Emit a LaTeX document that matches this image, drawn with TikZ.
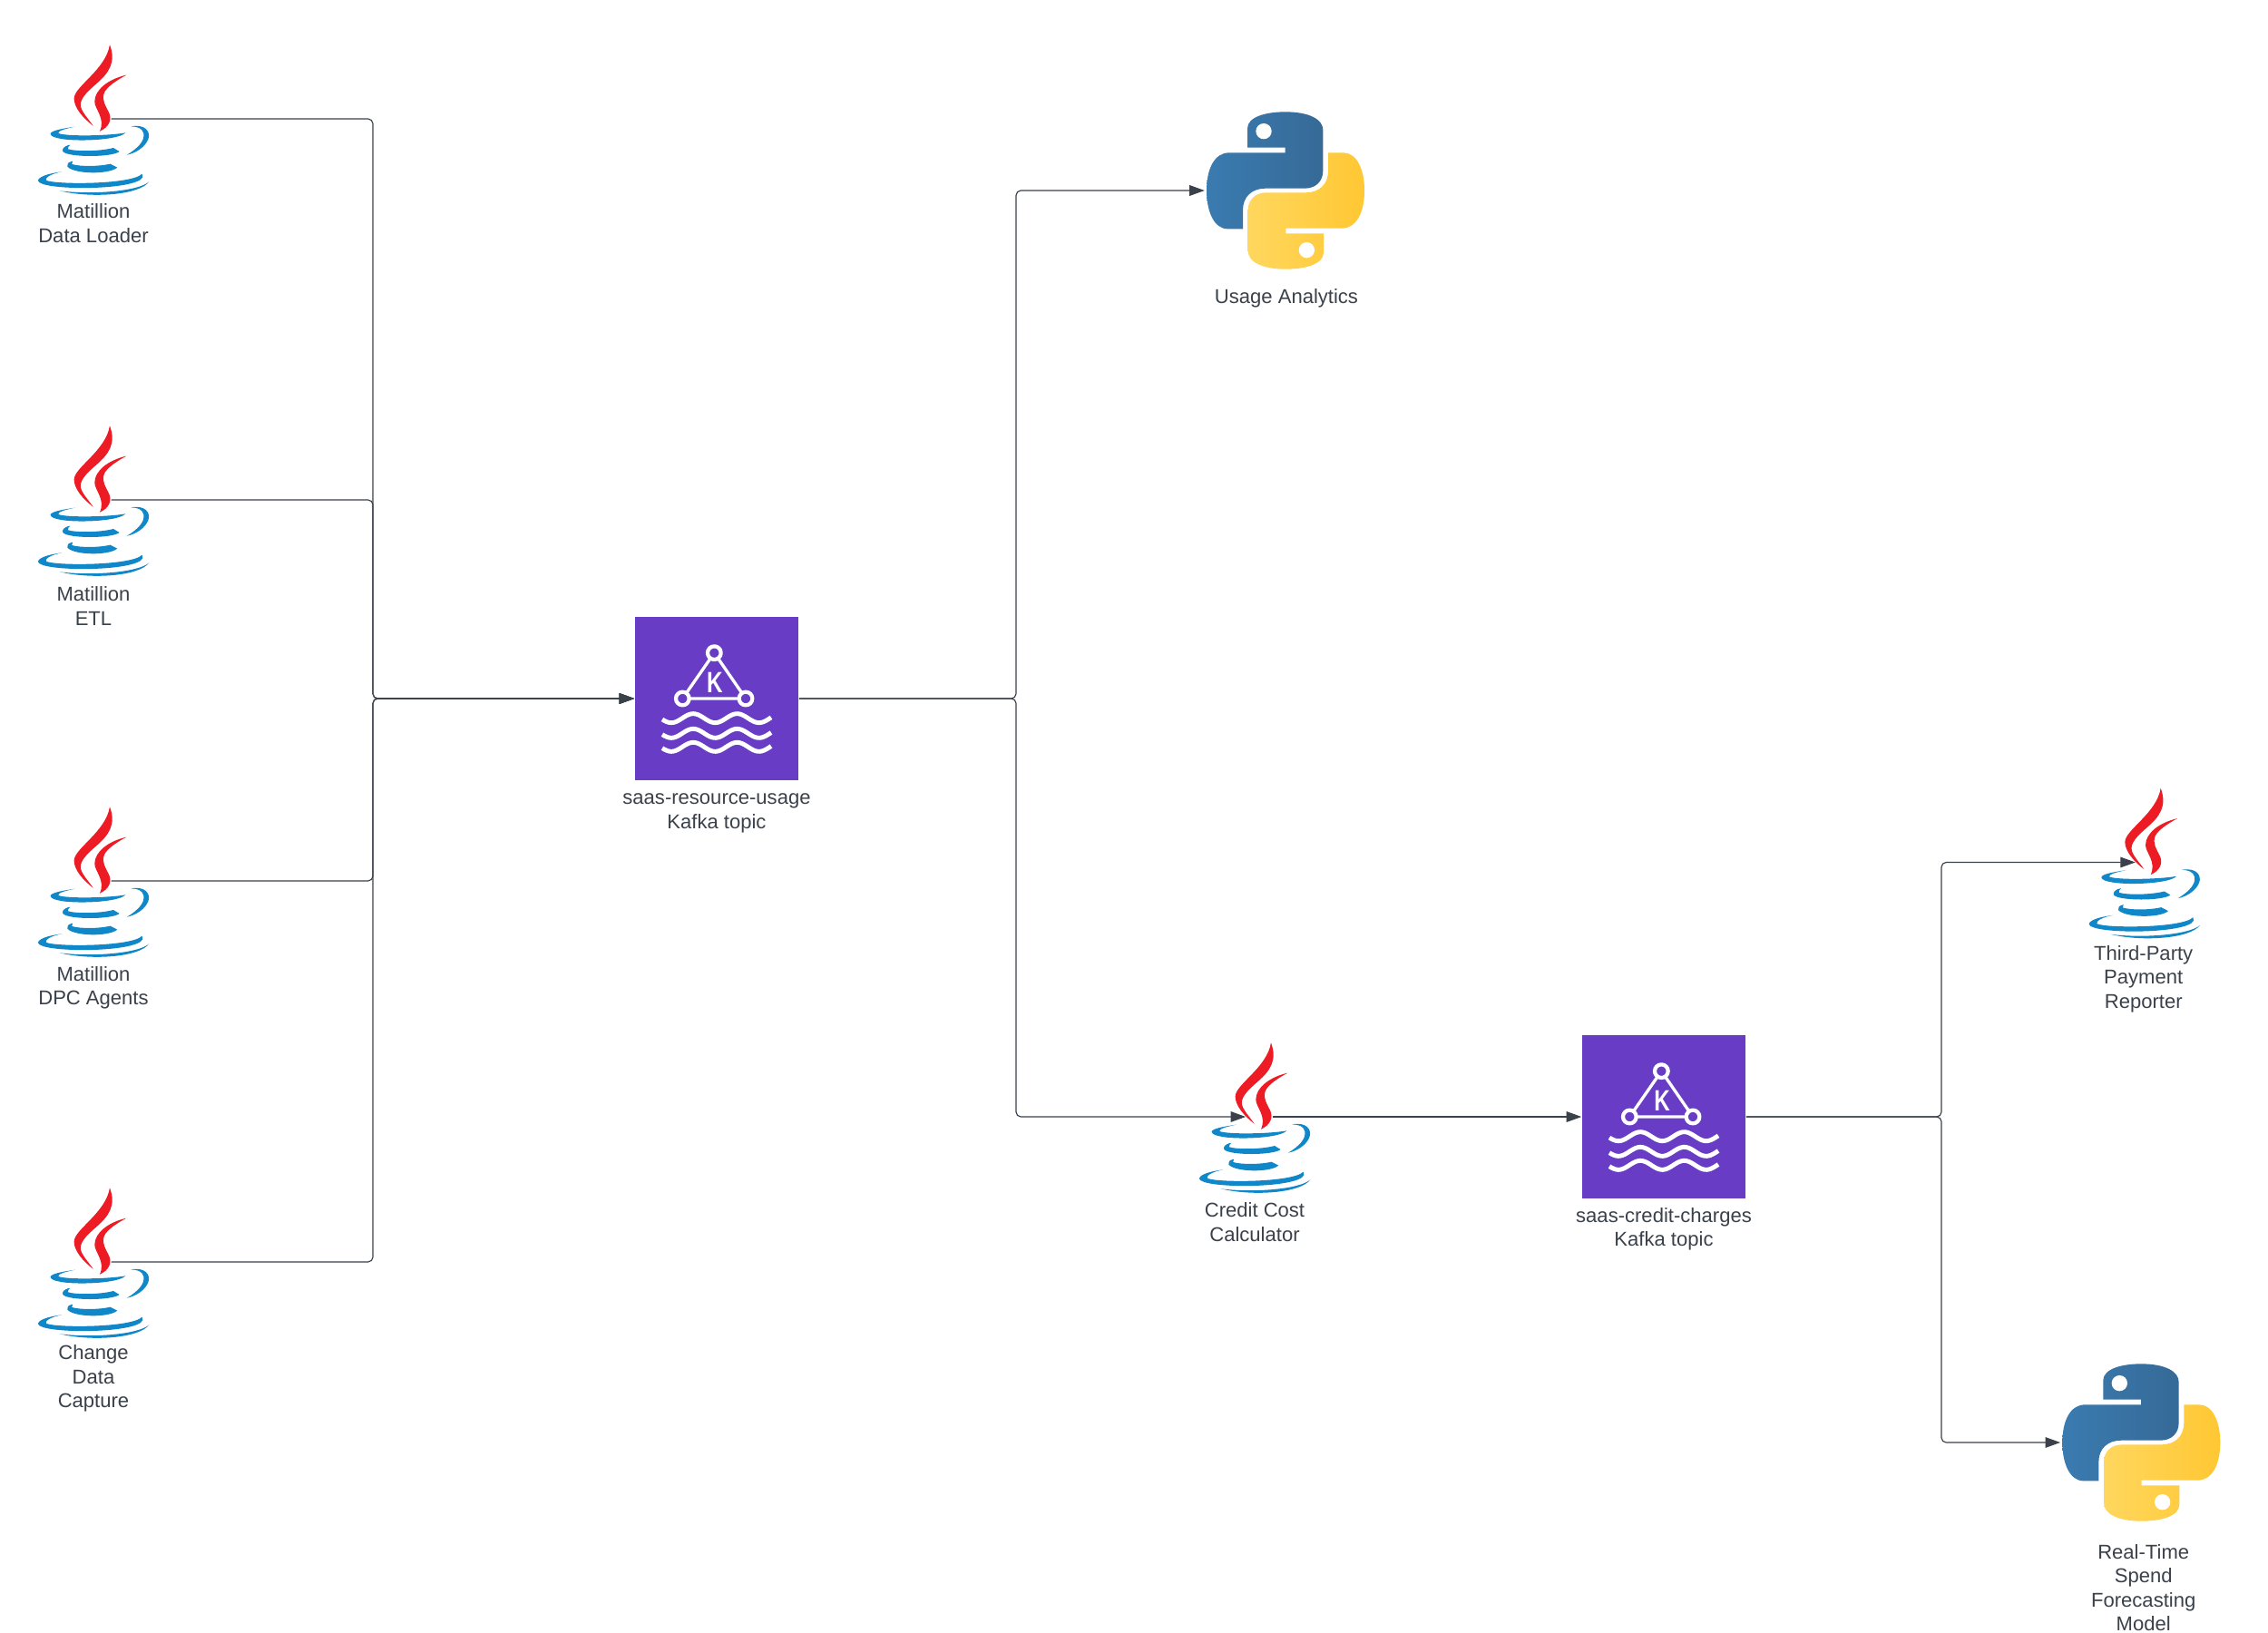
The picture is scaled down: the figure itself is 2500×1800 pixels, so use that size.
\documentclass[tikz,border=0pt]{standalone}
\usepackage{fontspec}
\setmainfont{Liberation Sans}
\usetikzlibrary{arrows.meta}
\definecolor{inkgrey}{HTML}{3A414A}
\definecolor{kafkapurple}{HTML}{693CC5}
\definecolor{javared}{HTML}{ED1C24}
\definecolor{javablue}{HTML}{0F87C8}
\definecolor{pyblueA}{HTML}{3A7BB0}
\definecolor{pyblueB}{HTML}{366A97}
\definecolor{pyyellowA}{HTML}{FFD75E}
\definecolor{pyyellowB}{HTML}{FFC733}
\tikzset{
  link/.style={draw=inkgrey, line width=0.33pt, rounded corners=1.5pt},
  arrowlink/.style={link, ->},
  javanode/.style={inner sep=0pt, minimum width=0.28cm, minimum height=0.05cm},
  pythonnode/.style={inner sep=0pt, minimum width=1.77cm, minimum height=1.77cm},
  kafkanode/.style={fill=kafkapurple, inner sep=0pt, minimum size=1.8cm},
  caption/.style={text=inkgrey, align=center, inner sep=0pt, font=\fontsize{6.27}{7.55}\selectfont},
  javaicon/.pic={
    \begin{scope}[scale=1/3, shift={(-263.5,-302)}]
    \fill[javared] (303,57) .. controls (325,115) and (300,150) .. (260,185) .. controls (225,215) and (200,240) .. (208,265) .. controls (215,285) and (235,305) .. (248,325) .. controls (215,300) and (185,265) .. (185,235) .. controls (185,195) and (290,140) .. (303,57) -- cycle;
    \fill[javared] (358,157) .. controls (300,170) and (253,205) .. (253,245) .. controls (253,270) and (290,300) .. (270,343) .. controls (300,330) and (312,305) .. (300,280) .. controls (290,260) and (275,240) .. (285,215) .. controls (295,195) and (325,175) .. (358,157) -- cycle;
    \fill[javablue] (188,328) .. controls (140,335) and (107,342) .. (107,352) .. controls (110,382) and (330,378) .. (355,348) .. controls (300,358) and (165,361) .. (133,350) .. controls (130,342) and (155,335) .. (188,328) -- cycle;
    \fill[javablue] (373,327) .. controls (420,318) and (440,345) .. (430,370) .. controls (420,395) and (390,415) .. (360,421) .. controls (395,400) and (420,375) .. (415,350) .. controls (410,332) and (395,328) .. (373,327) -- cycle;
    \fill[javablue] (172,388) .. controls (150,392) and (145,402) .. (148,410) .. controls (165,430) and (310,430) .. (335,410) -- (315,398) .. controls (270,410) and (190,410) .. (165,402) .. controls (163,397) and (168,392) .. (172,388) -- cycle;
    \fill[javablue] (180,442) .. controls (165,445) and (160,452) .. (163,460) .. controls (185,485) and (300,487) .. (328,463) -- (305,451) .. controls (265,460) and (205,460) .. (178,452) -- cycle;
    \fill[javablue] (145,477) .. controls (95,483) and (66,495) .. (66,507) .. controls (75,540) and (390,540) .. (412,495) -- (410,484) .. controls (375,520) and (120,520) .. (92,505) .. controls (88,495) and (115,482) .. (145,477) -- cycle;
    \fill[javablue] (138,540) .. controls (240,565) and (400,555) .. (433,510) .. controls (395,543) and (240,553) .. (138,540) -- cycle;
    \end{scope}
  },
  pythonicon/.pic={
    \begin{scope}[scale=1/3, shift={(-351,-330)}]
    \shade[left color=pyblueA, right color=pyblueB] (225,188) -- (225,125) .. controls (225,85) and (290,70) .. (350,70) .. controls (430,70) and (475,95) .. (475,130) -- (475,265) .. controls (475,300) and (450,323) .. (415,323) -- (285,323) .. controls (240,323) and (210,350) .. (210,395) -- (210,457) -- (160,457) .. controls (115,457) and (90,400) .. (90,330) .. controls (90,260) and (115,205) .. (165,205) -- (350,205) -- (350,188) -- cycle;
    \fill[white] (279,134) circle (26);
    \shade[left color=pyyellowA, right color=pyyellowB] (477,472) -- (477,535) .. controls (477,575) and (412,590) .. (352,590) .. controls (272,590) and (227,565) .. (227,530) -- (227,395) .. controls (227,360) and (252,337) .. (287,337) -- (417,337) .. controls (462,337) and (492,310) .. (492,265) -- (492,205) -- (542,205) .. controls (587,205) and (612,260) .. (612,330) .. controls (612,400) and (587,455) .. (537,455) -- (352,455) -- (352,472) -- cycle;
    \fill[white] (421,527) circle (26);
    \end{scope}
  },
  kafkaicon/.pic={
    \begin{scope}[scale=1/3, shift={(-390,-330)}]
    \draw[white, line width=0.95pt] (382,179) -- (277,330) -- (486,330) -- cycle;
    \foreach \cx/\cy in {382/179, 277/330, 486/330}
      \draw[white, line width=1.2pt, fill=kafkapurple] (\cx,\cy) circle (22);
    \node[text=white, inner sep=0pt, font=\bfseries\fontsize{9.2}{9.2}\selectfont] (kletter) at (384,277) {\scalebox{0.75}[1]{K}};
    \foreach \wavey in {395,445,490}
      \draw[white, line width=1.4pt] plot[domain=210:570, samples=50, smooth] (\x,{\wavey+15*cos((\x-385)*2.4828)});
    \end{scope}
  }
}
\begin{document}
\begin{tikzpicture}[x=0.01cm, y=-0.01cm, line join=round, >={Triangle[length=4.7pt,width=3.3pt]}]
\useasboundingbox (0,0) rectangle (2500,1800);
% sources
\node[javanode] (dataloader) at (107.8,131) {};
\node[javanode] (etl) at (107.8,551) {};
\node[javanode] (dpcagents) at (107.8,971) {};
\node[javanode] (cdc) at (107.8,1391) {};
% topics and consumers
\node[kafkanode] (resourcetopic) at (790,770) {};
\node[pythonnode] (usage) at (1417,210) {};
\node[javanode] (creditcost) at (1387.8,1231) {};
\node[kafkanode] (credittopic) at (1834,1231) {};
\node[javanode] (payment) at (2368.5,950.5) {};
\node[pythonnode] (forecast) at (2360.3,1590) {};
\coordinate (intrunk) at (411,770);
\coordinate (outtrunk) at (1120,770);
\coordinate (credittrunk) at (2140,1231);
% connectors
\foreach \src in {dataloader,etl,dpcagents,cdc}
  \draw[arrowlink] (\src.east) -| (intrunk) -- (resourcetopic.west);
\draw[arrowlink] (resourcetopic.east) -- (outtrunk) |- (usage.west);
\draw[arrowlink] (resourcetopic.east) -- (outtrunk) |- (creditcost.west);
\draw[arrowlink] (creditcost.east) -- (credittopic.west);
\draw[arrowlink] (credittopic.east) -- (credittrunk) |- (payment.west);
\draw[arrowlink] (credittopic.east) -- (credittrunk) |- (forecast.west);
% icons
\foreach \src in {dataloader,etl,dpcagents,cdc,creditcost,payment}
  \pic at (\src.center) {javaicon};
\foreach \src in {usage,forecast}
  \pic at (\src.center) {pythonicon};
\foreach \src in {resourcetopic,credittopic}
  \pic at (\src.center) {kafkaicon};
% captions
\node[caption] (dataloadertext) at (103,246) {Matillion\\Data Loader};
\node[caption] (etltext) at (103,668) {Matillion\\ETL};
\node[caption] (dpcagentstext) at (103,1089) {Matillion\\DPC Agents};
\node[caption] (cdctext) at (103,1519.5) {Change\\Data\\Capture};
\node[caption] (resourcetopictext) at (790,896.5) {saas-resource-usage\\Kafka topic};
\node[caption] (usagetext) at (1418,329) {Usage Analytics};
\node[caption] (creditcosttext) at (1383,1347) {Credit Cost\\Calculator};
\node[caption] (credittopictext) at (1834,1355) {saas-credit-charges\\Kafka topic};
\node[caption] (paymenttext) at (2362.7,1079) {Third-Party\\Payment\\Reporter};
\node[caption] (forecasttext) at (2362.7,1750) {Real-Time\\Spend\\Forecasting\\Model};
\end{tikzpicture}
\end{document}
